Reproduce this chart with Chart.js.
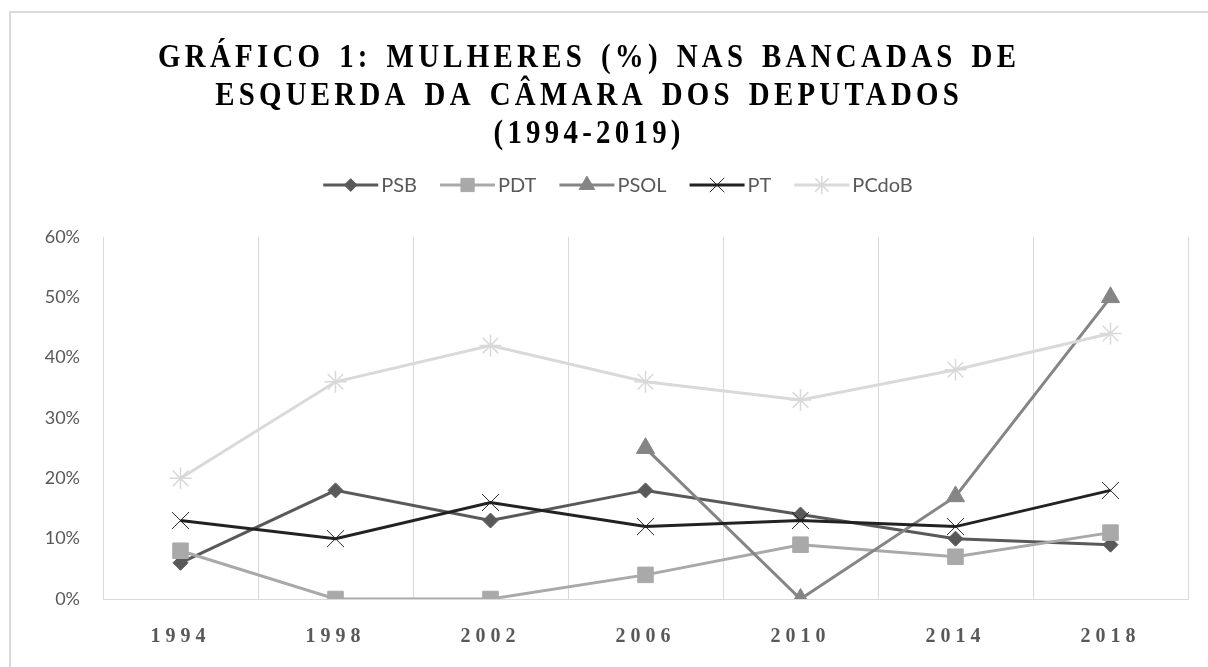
<!DOCTYPE html>
<html>
<head>
<meta charset="utf-8">
<script src="https://cdn.jsdelivr.net/npm/chart.js"></script>
<style>
  html, body { margin: 0; padding: 0; background: #fff; }
  canvas { display: block; }
</style>
</head>
<body>
<canvas id="mulheresChart" width="1208" height="667"></canvas>
<script>
// dados (% de mulheres por bancada)
const anos = ['1994', '1998', '2002', '2006', '2010', '2014', '2018'];
const psb   = [6, 18, 13, 18, 14, 10, 9];
const pdt   = [8, 0, 0, 4, 9, 7, 11];
const psol  = [null, null, null, 25, 0, 17, 50];
const pt    = [13, 10, 16, 12, 13, 12, 18];
const pcdob = [20, 36, 42, 36, 33, 38, 44];

const tituloLinhas = [
    'GRÁFICO 1: MULHERES (%) NAS BANCADAS DE',
    'ESQUERDA DA CÂMARA DOS DEPUTADOS',
    '(1994-2019)'
];

const cinzaTexto = '#595959';

// título e legenda desenhados à mão (fonte condensada, linha + marcador)
const decoracao = {
    id: 'decoracao',
    beforeDraw(chart) {
        const c = chart.ctx;
        c.save();
        c.strokeStyle = '#d9d9d9';
        c.lineWidth = 2;
        c.strokeRect(10, 12, 1400, 1000);
        c.restore();
    },
    afterDatasetsDraw(chart) {
        // rótulos do eixo x espaçados (desenhados depois, z: 1)
        chart.ctx.letterSpacing = '5px';
    },
    afterDraw(chart) {
        const c = chart.ctx;
        c.letterSpacing = '0px';

        // título
        c.save();
        c.fillStyle = '#000';
        c.font = 'bold 34px "Liberation Serif"';
        c.letterSpacing = '5px';
        c.wordSpacing = '4px';
        c.textBaseline = 'alphabetic';
        c.textAlign = 'left';
        const bases = [67, 105, 143];
        tituloLinhas.forEach((linha, i) => {
            c.save();
            c.translate(587, bases[i]);
            c.scale(0.85, 1);
            const w = c.measureText(linha).width - 5;
            c.fillText(linha, -w / 2, 0);
            c.restore();
        });
        c.restore();

        // legenda
        c.save();
        c.font = '20px Lato';
        c.textBaseline = 'middle';
        c.textAlign = 'left';
        const LINHA = 55, GAP = 3, ENTRE = 23, y = 185;
        const dsets = chart.data.datasets;
        const larguras = dsets.map(ds => c.measureText(ds.label).width);
        let total = 0;
        larguras.forEach(w => total += LINHA + GAP + w);
        total += ENTRE * (dsets.length - 1);
        let x = 618 - total / 2;
        dsets.forEach((ds, i) => {
            c.strokeStyle = ds.borderColor;
            c.lineWidth = ds.borderWidth;
            c.beginPath();
            c.moveTo(x, y);
            c.lineTo(x + LINHA, y);
            c.stroke();
            c.fillStyle = ds.pointBackgroundColor;
            c.strokeStyle = ds.pointBorderColor;
            c.lineWidth = ds.pointBorderWidth;
            Chart.helpers.drawPoint(c, {
                pointStyle: ds.pointStyle,
                radius: ds.pointRadius * 0.85,
                rotation: 0,
                borderWidth: ds.pointBorderWidth
            }, x + LINHA / 2, y);
            c.fillStyle = cinzaTexto;
            c.fillText(ds.label, x + LINHA + GAP, y + 1);
            x += LINHA + GAP + larguras[i] + ENTRE;
        });
        c.restore();
    }
};

function serie(label, data, cor, estilo, raio, bw, ordem) {
    return {
        label,
        data,
        borderColor: cor,
        backgroundColor: cor,
        pointBackgroundColor: cor,
        pointBorderColor: cor,
        pointStyle: estilo,
        pointRadius: raio,
        pointHoverRadius: raio,
        pointBorderWidth: bw,
        borderWidth: 3,
        tension: 0,
        spanGaps: false,
        order: ordem
    };
}

new Chart(document.getElementById('mulheresChart'), {
    type: 'line',
    data: {
        labels: anos,
        datasets: [
            serie('PSB', psb, '#595959', 'rectRot', 7.5, 1, 5),
            serie('PDT', pdt, '#a9a9a9', 'rect', 11, 1, 4),
            serie('PSOL', psol, '#858585', 'triangle', 10.5, 1, 3),
            serie('PT', pt, '#222222', 'crossRot', 12, 1, 2),
            serie('PCdoB', pcdob, '#d9d9d9', 'star', 11, 1.5, 1)
        ]
    },
    options: {
        responsive: false,
        animation: false,
        layout: { padding: { top: 237, left: 23, right: 20, bottom: 0 } },
        plugins: {
            legend: { display: false },
            title: { display: false },
            tooltip: { enabled: false }
        },
        scales: {
            x: {
                offset: true,
                grid: { display: true, offset: true, color: '#d9d9d9', lineWidth: 1, drawTicks: false },
                border: { display: true, color: '#d9d9d9', width: 1 },
                ticks: {
                    z: 1,
                    padding: 26,
                    color: cinzaTexto,
                    font: { family: '"Liberation Serif"', size: 20, weight: 'bold' }
                },
                afterFit: s => { s.height = 68; }
            },
            y: {
                min: 0,
                max: 60,
                grid: { display: false, drawTicks: false },
                border: { display: false },
                ticks: {
                    stepSize: 10,
                    padding: 23,
                    color: cinzaTexto,
                    font: { family: 'Lato', size: 18 },
                    callback: v => v + '%'
                },
                afterFit: s => { s.width = 80; }
            }
        }
    },
    plugins: [decoracao]
});
</script>
</body>
</html>
